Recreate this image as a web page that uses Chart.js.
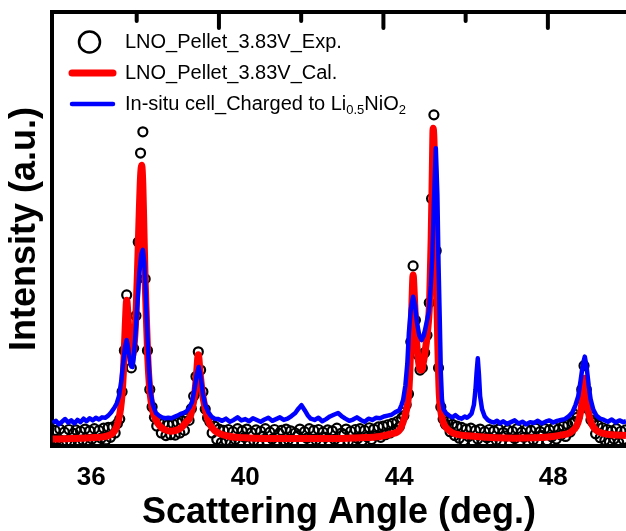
<!DOCTYPE html>
<html>
<head>
<meta charset="utf-8">
<script src="https://cdn.jsdelivr.net/npm/chart.js@4.4.1/dist/chart.umd.min.js"></script>
<style>
  html, body { margin: 0; padding: 0; background: #fff; }
</style>
</head>
<body>
<canvas id="xrdChart" width="626" height="531"></canvas>
<script>
// x = scattering angle (deg), y = intensity (a.u., 0-100 scale)
const expPoints = [
  [35.00,0.7],[35.06,3.6],[35.12,1.5],[35.18,3.9],[35.24,0.6],[35.30,3.2],[35.36,1.1],[35.42,3.8],
  [35.48,0.8],[35.54,2.9],[35.60,3.7],[35.66,0.9],[35.72,3.4],[35.78,1.3],[35.84,3.9],[35.90,0.7],
  [35.96,3.5],[36.02,1.6],[36.08,4.0],[36.14,0.9],[36.20,3.6],[36.26,1.8],[36.32,4.1],[36.38,1.4],
  [36.44,4.3],[36.50,2.0],[36.56,4.4],[36.62,3.0],[36.68,5.2],[36.74,6.2],[36.80,12.5],[36.86,22],
  [36.92,34.8],[36.98,26],[37.04,18],[37.10,22.5],[37.16,30],[37.22,47],[37.28,67.5],[37.34,72.4],
  [37.40,38.5],[37.46,22],[37.52,13],[37.58,9],[37.64,6.6],[37.70,4.6],[37.76,5.8],[37.82,3.0],
  [37.88,5.2],[37.94,2.4],[38.00,4.9],[38.06,2.6],[38.12,5.1],[38.18,2.5],[38.24,5.4],[38.30,3.0],
  [38.36,5.8],[38.42,3.6],[38.48,6.4],[38.54,5.9],[38.60,8.6],[38.66,11.5],[38.72,16],[38.78,21.7],
  [38.84,17.5],[38.90,12.5],[38.96,8.5],[39.02,6.5],[39.08,5.6],[39.14,3.0],[39.20,4.6],[39.26,1.5],
  [39.32,3.9],[39.38,0.8],[39.44,3.6],[39.50,1.2],[39.56,3.8],[39.62,0.6],[39.68,3.3],[39.74,1.5],
  [39.80,4.0],[39.86,0.8],[39.92,3.5],[39.98,2.0],[40.04,3.9],[40.10,0.7],[40.16,3.1],[40.22,1.2],
  [40.28,3.7],[40.34,0.5],[40.40,3.4],[40.46,2.2],[40.52,4.0],[40.58,0.9],[40.64,3.2],[40.70,1.6],
  [40.76,3.8],[40.82,0.6],[40.88,2.9],[40.94,3.6],[41.00,1.0],[41.06,3.9],[41.12,1.4],[41.18,3.5],
  [41.24,0.7],[41.30,3.0],[41.36,2.4],[41.42,3.9],[41.48,0.8],[41.54,3.3],[41.60,1.8],[41.66,4.0],
  [41.72,0.6],[41.78,3.6],[41.84,1.3],[41.90,3.8],[41.96,0.9],[42.02,3.2],[42.08,2.0],[42.14,3.7],
  [42.20,0.5],[42.26,3.5],[42.32,1.5],[42.38,4.1],[42.44,0.8],[42.50,3.0],[42.56,2.6],[42.62,3.9],
  [42.68,1.1],[42.74,3.4],[42.80,0.7],[42.86,3.8],[42.92,1.7],[42.98,4.0],[43.04,1.2],[43.10,3.6],
  [43.16,2.1],[43.22,4.2],[43.28,1.5],[43.34,3.9],[43.40,2.4],[43.46,4.4],[43.52,2.0],[43.58,4.6],
  [43.64,2.6],[43.70,4.9],[43.76,3.0],[43.82,5.2],[43.88,3.6],[43.94,5.6],[44.00,4.4],[44.06,6.4],
  [44.12,7.0],[44.18,9.5],[44.24,12],[44.30,24],[44.36,41.5],[44.42,29],[44.48,21],[44.54,17.5],
  [44.60,18],[44.66,21.5],[44.72,25.5],[44.78,33],[44.84,57],[44.90,76.3],[44.96,45],[45.02,18],
  [45.08,9],[45.14,6.2],[45.20,5.0],[45.26,5.6],[45.32,3.3],[45.38,5.0],[45.44,2.4],[45.50,4.6],
  [45.56,1.8],[45.62,4.3],[45.68,1.2],[45.74,3.9],[45.80,2.2],[45.86,4.1],[45.92,0.9],[45.98,3.6],
  [46.04,1.6],[46.10,3.9],[46.16,0.7],[46.22,3.3],[46.28,1.9],[46.34,3.8],[46.40,0.6],[46.46,3.5],
  [46.52,1.3],[46.58,3.9],[46.64,0.8],[46.70,3.1],[46.76,2.3],[46.82,3.7],[46.88,0.5],[46.94,3.4],
  [47.00,1.7],[47.06,4.0],[47.12,0.9],[47.18,3.2],[47.24,2.0],[47.30,3.8],[47.36,0.7],[47.42,3.6],
  [47.48,1.4],[47.54,4.1],[47.60,1.0],[47.66,3.3],[47.72,2.4],[47.78,4.0],[47.84,1.2],[47.90,3.7],
  [47.96,2.1],[48.02,4.3],[48.08,1.6],[48.14,3.9],[48.20,2.5],[48.26,4.6],[48.32,2.2],[48.38,4.9],
  [48.44,3.2],[48.50,5.4],[48.56,5.6],[48.62,6.6],[48.68,9.0],[48.74,13],[48.80,18.5],[48.86,13],
  [48.92,8.4],[48.98,6.0],[49.04,5.4],[49.10,2.8],[49.16,4.8],[49.22,1.9],[49.28,4.2],[49.34,1.3],
  [49.40,3.8],[49.46,0.9],[49.52,3.5],[49.58,1.6],[49.64,4.0],[49.70,0.8],[49.76,3.4],[49.82,1.5],
  [49.88,3.7]
];

const calPoints = [
  [35.0,1.6],[35.5,1.7],[36.0,1.9],[36.3,2.1],[36.5,2.6],[36.6,3.4],[36.66,4.5],[36.71,6],
  [36.76,8.5],[36.8,12],[36.84,18],[36.88,27],[36.92,33.6],[36.96,29],[37.0,23],[37.04,20.5],
  [37.08,21],[37.12,24],[37.16,30],[37.2,40],[37.24,52],[37.28,62],[37.31,64.7],[37.34,60],
  [37.37,49],[37.4,38],[37.43,30],[37.47,20],[37.51,14],[37.55,10.6],[37.6,8],[37.68,6],
  [37.78,4.6],[37.9,3.8],[38.05,3.4],[38.2,3.6],[38.35,4.3],[38.47,5.6],[38.56,6.5],[38.62,8.5],
  [38.68,11.5],[38.73,16],[38.78,21],[38.83,16.5],[38.88,12.5],[38.94,9.5],[39.0,7],[39.08,5],
  [39.2,3.6],[39.35,2.8],[39.6,2.2],[40.0,1.9],[41.0,1.7],[42.0,1.7],[43.0,1.9],[43.5,2.2],
  [43.8,2.8],[44.0,3.6],[44.1,5.5],[44.18,8],[44.23,10.6],[44.27,16],[44.3,24],[44.33,33],
  [44.36,39.4],[44.39,35],[44.42,29],[44.45,24],[44.5,19.5],[44.55,17.5],[44.58,17.5],[44.62,19],
  [44.66,21],[44.73,26],[44.79,33.6],[44.83,48],[44.86,64],[44.88,73.2],[44.91,68],[44.94,52],
  [44.97,37],[45.0,24],[45.04,12],[45.08,8],[45.14,5.5],[45.22,4.2],[45.35,3.2],[45.5,2.7],
  [46.0,2.2],[46.5,1.9],[47.0,1.8],[47.5,1.9],[48.0,2.2],[48.2,2.5],[48.4,2.9],[48.5,3.5],
  [48.6,4.5],[48.68,6.5],[48.74,9.5],[48.78,13],[48.82,15.6],[48.86,12],[48.9,8.5],[48.96,6],
  [49.04,4.4],[49.15,3.4],[49.3,2.9],[49.5,2.6],[49.89,2.4]
];

const insituPoints = [
  [35.0,5.3],[35.08,5.8],[35.16,5.0],[35.24,5.6],[35.32,6.2],[35.4,5.4],[35.48,5.9],[35.56,5.2],
  [35.64,6.0],[35.72,5.5],[35.8,6.3],[35.88,5.7],[35.96,6.4],[36.04,5.9],[36.12,6.5],[36.2,6.1],
  [36.28,6.6],[36.36,6.5],[36.44,7.0],[36.52,7.8],[36.6,8.8],[36.66,9.8],[36.72,11.5],[36.78,15],
  [36.84,20],[36.88,23],[36.92,24.4],[36.96,22.5],[37.0,19.8],[37.04,18.3],[37.07,18.2],[37.1,20],
  [37.15,26],[37.2,33],[37.25,40],[37.3,44.2],[37.34,45.2],[37.38,42],[37.42,34],[37.46,25],
  [37.5,17.5],[37.54,12.5],[37.6,9.5],[37.68,7.6],[37.76,7.0],[37.84,6.6],[37.92,6.4],[38.0,6.5],
  [38.08,6.4],[38.16,6.7],[38.24,7.0],[38.32,7.4],[38.4,7.6],[38.48,8.0],[38.56,9.0],[38.62,10.2],
  [38.68,13],[38.74,16.5],[38.79,18.2],[38.84,16],[38.9,12],[38.96,9.5],[39.04,7.8],[39.12,6.8],
  [39.2,6.3],[39.3,6.2],[39.4,5.8],[39.5,6.3],[39.6,5.6],[39.7,6.0],[39.8,6.6],[39.9,5.9],
  [40.0,6.2],[40.1,5.7],[40.2,6.4],[40.3,6.0],[40.4,5.6],[40.5,6.1],[40.6,6.5],[40.7,5.8],
  [40.8,6.2],[40.9,6.6],[41.0,6.0],[41.1,6.3],[41.2,6.9],[41.3,7.6],[41.38,8.6],[41.46,9.4],
  [41.54,8.3],[41.62,7.1],[41.7,6.3],[41.8,6.0],[41.9,6.5],[42.0,5.7],[42.1,6.2],[42.2,6.8],
  [42.3,7.2],[42.41,7.6],[42.5,6.9],[42.6,6.3],[42.7,5.8],[42.8,6.1],[42.9,6.6],[43.0,6.0],
  [43.1,5.6],[43.2,6.3],[43.3,6.0],[43.4,6.5],[43.5,6.4],[43.6,6.8],[43.7,7.0],[43.8,7.2],
  [43.9,7.8],[44.0,8.2],[44.06,9.5],[44.1,10.6],[44.16,14],[44.21,19],[44.25,26],[44.3,31.5],
  [44.36,34.4],[44.41,32.5],[44.46,28.5],[44.52,25.5],[44.58,24.4],[44.64,25.5],[44.7,28],[44.77,31],
  [44.82,37],[44.86,44],[44.9,56],[44.95,68.6],[44.99,58],[45.02,42],[45.05,30],[45.08,17],
  [45.11,10.6],[45.15,8.5],[45.22,7.5],[45.3,7.0],[45.38,6.6],[45.46,7.1],[45.54,6.5],[45.62,6.3],
  [45.7,6.8],[45.76,6.5],[45.82,6.9],[45.88,7.5],[45.94,9.5],[45.98,13],[46.01,17],[46.04,20.2],
  [46.07,16.5],[46.1,11.5],[46.15,8.5],[46.22,6.8],[46.3,6.0],[46.38,5.6],[46.46,5.4],[46.54,5.8],
  [46.62,5.2],[46.7,5.7],[46.8,5.1],[46.9,5.5],[47.0,5.9],[47.1,5.2],[47.2,5.6],[47.3,5.0],
  [47.4,5.5],[47.5,5.3],[47.6,5.8],[47.7,5.2],[47.8,5.6],[47.9,5.9],[48.0,5.4],[48.1,5.8],
  [48.2,6.0],[48.3,6.2],[48.4,6.8],[48.5,7.8],[48.58,9.5],[48.65,11.5],[48.71,15],[48.77,18.8],
  [48.82,20.6],[48.87,18],[48.92,14],[48.97,10.8],[49.04,8.4],[49.12,7.0],[49.22,6.3],[49.32,6.0],
  [49.42,5.6],[49.52,6.1],[49.62,5.4],[49.72,5.9],[49.82,5.5],[49.89,5.7]
];

const seriesNames = ['LNO_Pellet_3.83V_Exp.', 'LNO_Pellet_3.83V_Cal.', 'In-situ cell_Charged to Li'];
const xTickLabels = [36, 40, 44, 48];
const topTickValues = [1, 2, 3, 4, 5, 6];

const FONT = '"Liberation Sans", Arial, sans-serif';

function toXY(list) {
  return list.map(p => ({ x: p[0], y: p[1] }));
}

// Origin-style inward ticks on the top frame, alternating short/long
const topTicks = {
  id: 'topTicks',
  afterDraw(chart) {
    const s = chart.scales.x2;
    const ctx = chart.ctx;
    const top = chart.chartArea.top;
    ctx.save();
    ctx.strokeStyle = '#000';
    ctx.lineWidth = 4;
    ctx.lineCap = 'round';
    s.ticks.forEach(t => {
      const px = s.getPixelForValue(t.value);
      const len = t.value % 2 === 0 ? 16 : 9;
      ctx.beginPath();
      ctx.moveTo(px, top);
      ctx.lineTo(px, top + len);
      ctx.stroke();
    });
    ctx.restore();
  }
};

const insetLegend = {
  id: 'insetLegend',
  afterDraw(chart) {
    const ctx = chart.ctx;
    const ds = chart.data.datasets;
    const x0 = 72, x1 = 113, tx = 125;
    const rows = [42, 73, 104];
    ctx.save();
    ctx.font = '20px ' + FONT;
    ctx.textBaseline = 'middle';
    ctx.fillStyle = '#000';

    // open circle
    ctx.beginPath();
    ctx.arc((x0 + x1) / 2 - 3, rows[0], 10.5, 0, Math.PI * 2);
    ctx.lineWidth = 2.5;
    ctx.strokeStyle = ds[0].borderColor;
    ctx.stroke();
    ctx.fillText(ds[0].label, tx, rows[0]);

    [1, 2].forEach(i => {
      ctx.beginPath();
      ctx.moveTo(x0, rows[i]);
      ctx.lineTo(x1, rows[i]);
      ctx.lineWidth = i === 1 ? 7 : 4.5;
      ctx.lineCap = 'round';
      ctx.strokeStyle = ds[i].borderColor;
      ctx.stroke();
    });
    ctx.fillText(ds[1].label, tx, rows[1]);

    // Li0.5NiO2 with subscripts
    let x = tx;
    const parts = [[ds[2].label, false], ['0.5', true], ['NiO', false], ['2', true]];
    parts.forEach(([str, sub]) => {
      ctx.font = (sub ? '13px ' : '20px ') + FONT;
      ctx.fillText(str, x, rows[2] + (sub ? 6 : 0));
      x += ctx.measureText(str).width;
    });
    ctx.restore();
  }
};

const ctx = document.getElementById('xrdChart');

new Chart(ctx, {
  type: 'scatter',
  data: {
    datasets: [
      {
        label: seriesNames[0],
        data: toXY(expPoints),
        showLine: false,
        pointStyle: 'circle',
        pointRadius: 4.5,
        pointBorderWidth: 2.2,
        borderColor: '#000000',
        backgroundColor: 'rgba(0,0,0,0)',
        order: 2
      },
      {
        label: seriesNames[1],
        data: toXY(calPoints),
        showLine: true,
        pointRadius: 0,
        borderColor: '#ff0000',
        borderWidth: 7,
        cubicInterpolationMode: 'monotone',
        order: 1
      },
      {
        label: seriesNames[2],
        data: toXY(insituPoints),
        showLine: true,
        pointRadius: 0,
        borderColor: '#0000ff',
        borderWidth: 4.5,
        borderJoinStyle: 'round',
        order: 0
      }
    ]
  },
  options: {
    responsive: false,
    animation: false,
    events: [],
    layout: { padding: 0, autoPadding: false },
    plugins: {
      legend: { display: false },
      tooltip: { enabled: false }
    },
    scales: {
      x: {
        type: 'linear',
        position: 'bottom',
        min: 34.98,
        max: 49.89,
        afterBuildTicks: s => { s.ticks = xTickLabels.map(v => ({ value: v })); },
        afterFit: s => { s.height = 85; },
        grid: { drawOnChartArea: false, drawTicks: false },
        border: { display: true, color: '#000', width: 4 },
        ticks: {
          padding: 16,
          color: '#000',
          font: { family: FONT, size: 26, weight: 'bold' }
        },
        title: {
          display: true,
          text: 'Scattering Angle (deg.)',
          color: '#000',
          padding: { top: 0, bottom: 0 },
          font: { family: FONT, size: 36, weight: 'bold', lineHeight: 1 }
        }
      },
      x2: {
        type: 'linear',
        position: 'top',
        min: -0.03,
        max: 6.95,
        afterBuildTicks: s => { s.ticks = topTickValues.map(v => ({ value: v })); },
        afterFit: s => { s.height = 12; },
        grid: { drawOnChartArea: false, drawTicks: false },
        border: { display: true, color: '#000', width: 4 },
        ticks: { display: false }
      },
      y: {
        min: 0,
        max: 100,
        afterFit: s => { s.width = 52; },
        grid: { drawOnChartArea: false, drawTicks: false },
        border: { display: true, color: '#000', width: 4 },
        ticks: { display: false },
        title: {
          display: true,
          text: 'Intensity (a.u.)',
          color: '#000',
          padding: { top: 7, bottom: 0 },
          font: { family: FONT, size: 36, weight: 'bold', lineHeight: 1 }
        }
      }
    }
  },
  plugins: [topTicks, insetLegend]
});
</script>
</body>
</html>
